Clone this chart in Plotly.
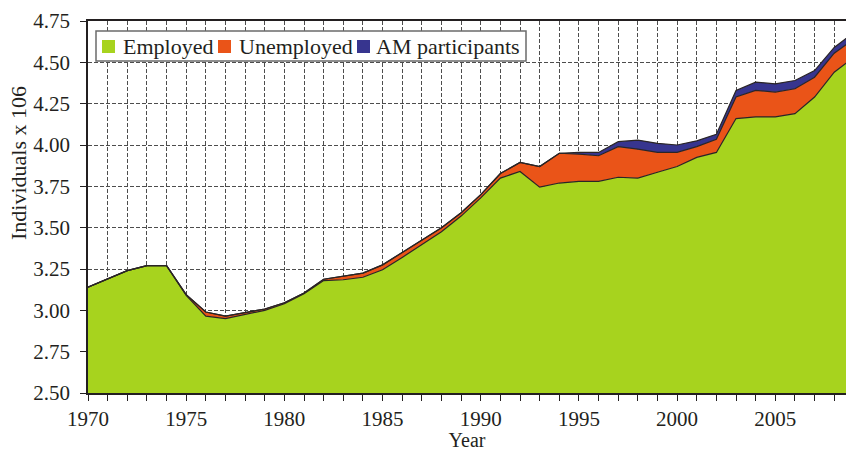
import plotly.graph_objects as go

years = list(range(1970, 2010))
employed = [3.14, 3.19, 3.24, 3.27, 3.27, 3.09, 2.965, 2.95, 2.975, 3.00,
            3.04, 3.10, 3.18, 3.185, 3.20, 3.245, 3.32, 3.40, 3.475, 3.57,
            3.68, 3.80, 3.84, 3.745, 3.77, 3.78, 3.78, 3.805, 3.80, 3.835,
            3.87, 3.925, 3.955, 4.16, 4.17, 4.17, 4.19, 4.29, 4.44, 4.53]
unemployed = [0.0, 0.0, 0.0, 0.0, 0.0, 0.005, 0.025, 0.015, 0.012, 0.008,
              0.006, 0.005, 0.008, 0.02, 0.025, 0.03, 0.03, 0.03, 0.025, 0.02,
              0.02, 0.027, 0.055, 0.125, 0.18, 0.165, 0.155, 0.185, 0.175, 0.12,
              0.085, 0.065, 0.08, 0.13, 0.16, 0.15, 0.15, 0.12, 0.115, 0.11]
am_participants = [0.0] * 25 + [0.01, 0.02, 0.03, 0.055, 0.055,
                                0.045, 0.035, 0.03, 0.04, 0.05, 0.05, 0.05, 0.04, 0.035, 0.04]

series_names = ["Employed", "Unemployed", "AM participants"]
series_colors = ["#A7D31E", "#EA5418", "#37358F"]
series_values = [employed, unemployed, am_participants]

x_tick_vals = list(range(1970, 2009))
x_tick_text = [str(y) if y % 5 == 0 else "" for y in x_tick_vals]
y_tick_vals = [2.50, 2.75, 3.00, 3.25, 3.50, 3.75, 4.00, 4.25, 4.50, 4.75]

FONT = "Liberation Serif"
TXT = "#231F20"

# plot-area geometry in pixels (for the hand-built legend)
L, R, T, B = 88, 0, 21, 58
W, H = 846, 451
PW, PH = W - L - R, H - T - B


def px(x):
    return (x - L) / PW


def py(y):
    return (H - B - y) / PH


fig = go.Figure()
for name, color, vals in zip(series_names, series_colors, series_values):
    fig.add_trace(go.Scatter(
        x=years, y=vals, name=name, stackgroup="one", mode="lines",
        line=dict(color="#2a2526", width=1.2),
        fillcolor=color, showlegend=False, hoverinfo="x+y+name",
    ))

# legend box, swatches and labels
shapes = [dict(type="rect", xref="paper", yref="paper",
               x0=px(96), x1=px(526), y0=py(61), y1=py(31),
               fillcolor="white", line=dict(color="#6b6b6b", width=1.5), layer="above")]
annotations = []
swatch_left = [102, 218, 357]
text_left = [121, 237, 374]
for name, color, sx, tx in zip(series_names, series_colors, swatch_left, text_left):
    shapes.append(dict(type="rect", xref="paper", yref="paper",
                       x0=px(sx), x1=px(sx + 13), y0=py(53), y1=py(40),
                       fillcolor=color, line=dict(width=0), layer="above"))
    annotations.append(dict(text=name, xref="paper", yref="paper",
                            x=px(tx), y=py(46.5), xanchor="left", yanchor="middle",
                            showarrow=False, font=dict(family=FONT, size=22, color=TXT)))

annotations.append(dict(
    text="Individuals x 106", textangle=-90, xref="paper", yref="paper",
    x=px(18), y=py(163), xanchor="center", yanchor="middle", showarrow=False,
    font=dict(family=FONT, size=22, color=TXT),
))

fig.update_layout(
    width=W, height=H,
    margin=dict(l=L, r=R, t=T, b=B, autoexpand=False),
    paper_bgcolor="white", plot_bgcolor="white",
    font=dict(family=FONT, size=21, color=TXT),
    showlegend=False,
    shapes=shapes,
    annotations=annotations,
    xaxis=dict(
        range=[1970, 2008.6], tickmode="array", tickvals=x_tick_vals, ticktext=x_tick_text,
        ticks="outside", ticklen=6, tickcolor=TXT, tickwidth=1,
        showline=True, linecolor=TXT, linewidth=1.5, mirror=True,
        showgrid=True, gridcolor="#4d4d4d", gridwidth=1, griddash="4px,2px",
        zeroline=False, tickfont=dict(family=FONT, size=21, color=TXT),
        title=dict(text="Year", font=dict(family=FONT, size=20, color=TXT), standoff=7),
    ),
    yaxis=dict(
        range=[2.5, 4.75], tickmode="array", tickvals=y_tick_vals, tickformat=".2f",
        ticks="outside", ticklen=6, tickcolor=TXT, tickwidth=1, ticklabelstandoff=6,
        showline=True, linecolor=TXT, linewidth=1.5,
        showgrid=True, gridcolor="#4d4d4d", gridwidth=1, griddash="4px,2px",
        zeroline=False, tickfont=dict(family=FONT, size=21, color=TXT),
    ),
)

fig.write_html(
    "out.html",
    config={"displayModeBar": False},
    post_script="document.body.style.margin='0';document.body.style.overflow='hidden';",
)
